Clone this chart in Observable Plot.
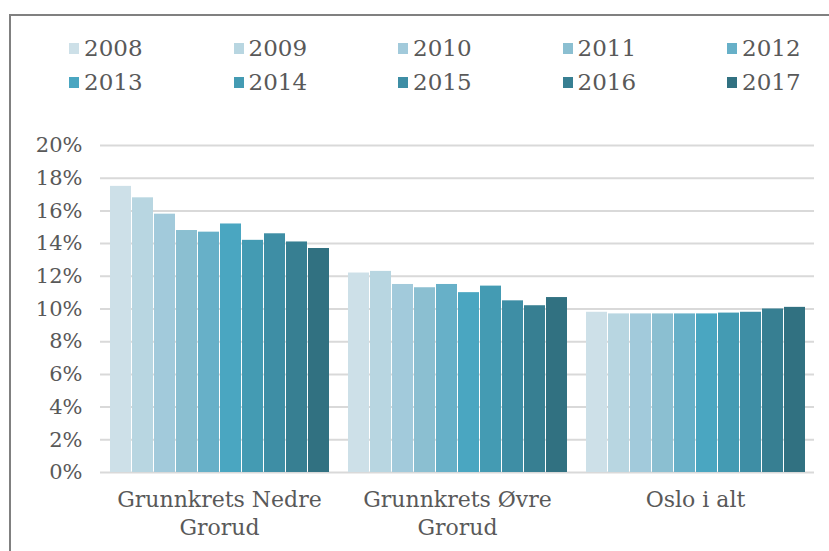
<!DOCTYPE html>
<html>
<head>
<meta charset="utf-8">
<script src="https://cdn.jsdelivr.net/npm/d3@7"></script>
<script src="https://cdn.jsdelivr.net/npm/@observablehq/plot@0.6"></script>
<style>
  html, body { margin: 0; padding: 0; background: #fff; overflow: hidden; }
  body { width: 829px; height: 551px; position: relative; font-family: "DejaVu Serif", serif; }
  #frame { position: absolute; left: 9px; top: 14px; width: 900px; height: 600px;
           border-left: 2px solid #808080; border-top: 2px solid #808080; }
  #chart { position: absolute; left: 0; top: 0; }
  .leg { position: absolute; display: flex; align-items: center; font-size: 23px; color: #595959; height: 26px; }
  .sw { width: 10px; height: 11px; margin-right: 5px; }
</style>
</head>
<body>
<div id="frame"></div>
<div id="chart"></div>
<div id="legend"></div>
<script>
const groups = ["Grunnkrets Nedre Grorud", "Grunnkrets Øvre Grorud", "Oslo i alt"];
const groupLabels = ["Grunnkrets Nedre\nGrorud", "Grunnkrets Øvre\nGrorud", "Oslo i alt"];
const years = ["2008", "2009", "2010", "2011", "2012", "2013", "2014", "2015", "2016", "2017"];
const nedre = [17.5, 16.8, 15.8, 14.8, 14.7, 15.2, 14.2, 14.6, 14.1, 13.7];
const ovre = [12.2, 12.3, 11.5, 11.3, 11.5, 11.0, 11.4, 10.5, 10.2, 10.7];
const oslo = [9.8, 9.7, 9.7, 9.7, 9.7, 9.7, 9.75, 9.8, 10.0, 10.1];
const colors = ["#cde0e8", "#b8d6e1", "#a2cadb", "#8bbfd1", "#67b0c8", "#4aa6c1", "#449bb3", "#3e8ea5", "#377f92", "#317181"];
const yTicks = [0, 2, 4, 6, 8, 10, 12, 14, 16, 18, 20];

const series = [nedre, ovre, oslo];
const data = [];
groups.forEach((g, gi) => years.forEach((y, yi) => data.push({group: g, year: y, value: series[gi][yi]})));
const labelData = groups.map((g, i) => ({group: g, label: groupLabels[i]}));

const chart = Plot.plot({
  width: 829,
  height: 551,
  marginTop: 145,
  marginBottom: 79,
  marginLeft: 100,
  marginRight: 15,
  style: {fontFamily: "DejaVu Serif", background: "transparent"},
  fx: {domain: groups, padding: 0, axis: null, label: null},
  x: {domain: years, paddingInner: 0.068, paddingOuter: 0.43, axis: null},
  y: {domain: [0, 20], axis: null},
  color: {domain: years, range: colors},
  marks: [
    Plot.ruleY(yTicks, {y: d => d, stroke: "#d9d9d9", strokeWidth: 2}),
    Plot.barY(data, {fx: "group", x: "year", y: "value", fill: "year"}),
    Plot.axisY(yTicks, {tickSize: 0, tickPadding: 18, tickFormat: d => d + "%", fontSize: 21, fill: "#595959", label: null}),
    Plot.text(labelData, {fx: "group", text: "label", frameAnchor: "bottom", lineAnchor: "top", dy: 15, fontSize: 22, lineHeight: 1.25, fill: "#595959"})
  ]
});
document.getElementById("chart").appendChild(chart);

const legend = document.getElementById("legend");
years.forEach((y, i) => {
  const row = Math.floor(i / 5), col = i % 5;
  const item = document.createElement("div");
  item.className = "leg";
  item.style.left = (69 + col * 164.5) + "px";
  item.style.top = (35 + row * 34) + "px";
  const sw = document.createElement("div");
  sw.className = "sw";
  sw.style.background = colors[i];
  const t = document.createElement("span");
  t.textContent = y;
  item.appendChild(sw);
  item.appendChild(t);
  legend.appendChild(item);
});
</script>
</body>
</html>
